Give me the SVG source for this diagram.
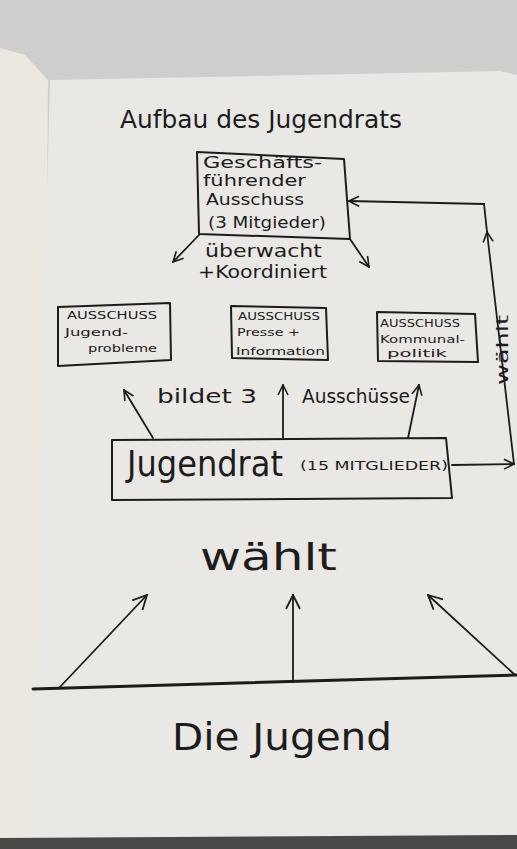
<svg xmlns="http://www.w3.org/2000/svg" width="517" height="849" viewBox="0 0 517 849">
<defs>
<marker id="arr" viewBox="0 0 12 12" refX="11" refY="6" markerWidth="12" markerHeight="12" markerUnits="userSpaceOnUse" orient="auto">
<path d="M1,1 L11,6 L1,11" fill="none" stroke="#1c1c1c" stroke-width="1.6"/>
</marker>
<marker id="arrL" viewBox="0 0 16 16" refX="15" refY="8" markerWidth="16" markerHeight="16" markerUnits="userSpaceOnUse" orient="auto">
<path d="M1,1 L15,8 L1,15" fill="none" stroke="#1c1c1c" stroke-width="1.8"/>
</marker>
</defs>
<style>
.ink{fill:#1c1c1c;font-family:"DejaVu Sans","Liberation Sans",sans-serif;}
.box{fill:none;stroke:#1c1c1c;stroke-width:2;stroke-linejoin:round;}
.ln{fill:none;stroke:#1c1c1c;stroke-width:1.8;stroke-linecap:round;}
.thick{fill:none;stroke:#1c1c1c;stroke-width:3;stroke-linecap:round;}
</style>
<!-- background photo scene -->
<rect x="0" y="0" width="517" height="849" fill="#cfcecc"/>
<polygon points="0,48 25,55 48,80 42,849 0,849" fill="#ece8e0"/>
<polygon points="50,80 500,71 517,75 517,838 30,849 44,300" fill="#e9e8e5"/>
<polygon points="0,838 517,835 517,849 0,849" fill="#4a4846"/>

<text class="ink" x="120" y="128" font-size="24" textLength="282" lengthAdjust="spacingAndGlyphs">Aufbau des Jugendrats</text>

<g id="geschaeftsfuehrender-ausschuss">
<polygon class="box" points="197,152 344,159 350,239 199,234"/>
<text class="ink" x="203" y="168" font-size="15" textLength="119" lengthAdjust="spacingAndGlyphs">Geschäfts-</text>
<text class="ink" x="203" y="186" font-size="15" textLength="103" lengthAdjust="spacingAndGlyphs">führender</text>
<text class="ink" x="206" y="205" font-size="15" textLength="98" lengthAdjust="spacingAndGlyphs">Ausschuss</text>
<text class="ink" x="208" y="228" font-size="15" textLength="118" lengthAdjust="spacingAndGlyphs">(3 Mitgieder)</text>
</g>

<g id="ausschuss-jugendprobleme">
<polygon class="box" points="58,307 170,303 171,360 58,366"/>
<text class="ink" x="67" y="319" font-size="10" textLength="90" lengthAdjust="spacingAndGlyphs">AUSSCHUSS</text>
<text class="ink" x="65" y="336" font-size="11" textLength="63" lengthAdjust="spacingAndGlyphs">Jugend-</text>
<text class="ink" x="88" y="352" font-size="11" textLength="69" lengthAdjust="spacingAndGlyphs">probleme</text>
</g>

<g id="ausschuss-presse">
<polygon class="box" points="231,306 326,308 328,360 232,358"/>
<text class="ink" x="238" y="320" font-size="10" textLength="82" lengthAdjust="spacingAndGlyphs">AUSSCHUSS</text>
<text class="ink" x="237" y="336" font-size="11" textLength="63" lengthAdjust="spacingAndGlyphs">Presse +</text>
<text class="ink" x="236" y="355" font-size="11" textLength="89" lengthAdjust="spacingAndGlyphs">Information</text>
</g>

<g id="ausschuss-kommunalpolitik">
<polygon class="box" points="377,312 475,314 478,362 378,361"/>
<text class="ink" x="380" y="327" font-size="10" textLength="80" lengthAdjust="spacingAndGlyphs">AUSSCHUSS</text>
<text class="ink" x="380" y="343" font-size="11" textLength="85" lengthAdjust="spacingAndGlyphs">Kommunal-</text>
<text class="ink" x="387" y="357" font-size="11" textLength="60" lengthAdjust="spacingAndGlyphs">politik</text>
</g>

<g id="jugendrat">
<polygon class="box" points="112,440 446,438 452,498 112,500"/>
<text class="ink" x="127" y="476" font-size="36" textLength="156" lengthAdjust="spacingAndGlyphs">Jugendrat</text>
<text class="ink" x="300" y="470" font-size="13" textLength="148" lengthAdjust="spacingAndGlyphs">(15 MITGLIEDER)</text>
</g>

<g id="die-jugend">
<text class="ink" x="172" y="750" font-size="37" textLength="220" lengthAdjust="spacingAndGlyphs">Die Jugend</text>
</g>

<g id="connectors">
<!-- Geschaeftsfuehrender Ausschuss ueberwacht + koordiniert -->
<line class="ln" x1="199" y1="235" x2="173" y2="262" marker-end="url(#arr)"/>
<line class="ln" x1="350" y1="239" x2="369" y2="267" marker-end="url(#arr)"/>
<text class="ink" x="205" y="257" font-size="17" textLength="117" lengthAdjust="spacingAndGlyphs">überwacht</text>
<text class="ink" x="198" y="278" font-size="17" textLength="129" lengthAdjust="spacingAndGlyphs">+Koordiniert</text>
<!-- Jugendrat waehlt Geschaeftsfuehrenden Ausschuss -->
<line class="ln" x1="452" y1="465" x2="514" y2="464" marker-end="url(#arr)"/>
<line class="ln" x1="514" y1="464" x2="487" y2="232" marker-end="url(#arr)"/>
<line class="ln" x1="487" y1="232" x2="484" y2="204"/>
<line class="ln" x1="484" y1="204" x2="349" y2="201" marker-end="url(#arr)"/>
<text class="ink" font-size="15" transform="translate(508,385) rotate(-90)" textLength="70" lengthAdjust="spacingAndGlyphs">wählt</text>
<!-- Jugendrat bildet 3 Ausschuesse -->
<line class="ln" x1="153" y1="438" x2="124" y2="390" marker-end="url(#arr)"/>
<line class="ln" x1="283" y1="438" x2="283" y2="385" marker-end="url(#arr)"/>
<line class="ln" x1="408" y1="438" x2="419" y2="385" marker-end="url(#arr)"/>
<text class="ink" x="157" y="403" font-size="19" textLength="100" lengthAdjust="spacingAndGlyphs">bildet 3</text>
<text class="ink" x="302" y="403" font-size="19" textLength="108" lengthAdjust="spacingAndGlyphs">Ausschüsse</text>
<!-- Die Jugend waehlt Jugendrat -->
<line class="thick" x1="33" y1="689" x2="517" y2="675"/>
<line class="ln" x1="59" y1="688" x2="147" y2="595" marker-end="url(#arrL)"/>
<line class="ln" x1="293" y1="682" x2="293" y2="595" marker-end="url(#arrL)"/>
<line class="ln" x1="515" y1="675" x2="428" y2="595" marker-end="url(#arrL)"/>
<text class="ink" x="200" y="570" font-size="38" textLength="137" lengthAdjust="spacingAndGlyphs">wählt</text>
</g>
</svg>
